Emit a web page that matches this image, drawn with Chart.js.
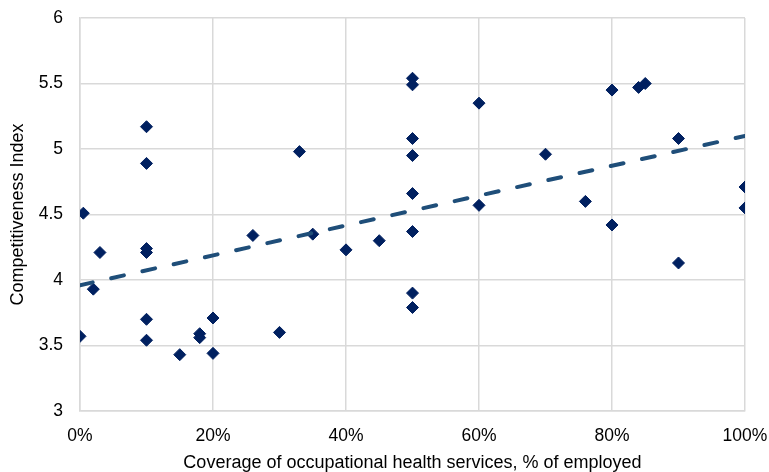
<!DOCTYPE html>
<html>
<head>
<meta charset="utf-8">
<script src="https://cdn.jsdelivr.net/npm/chart.js@4"></script>
<style>
  html, body { margin: 0; padding: 0; background: #ffffff; }
  #wrap { width: 769px; height: 472px; position: relative; }
</style>
</head>
<body>
<div id="wrap"><canvas id="c" width="769" height="472"></canvas></div>
<script>
// Coverage of occupational health services, % of employed
const coverage = [0, 0.5, 2, 3, 10, 10, 10, 10, 10, 10, 15, 18, 18, 20, 20, 26, 30, 33, 35, 40, 45,
  50, 50, 50, 50, 50, 50, 50, 50, 60, 60, 70, 76, 80, 80, 84, 85, 90, 90, 100, 100];
// Competitiveness Index
const competitiveness = [3.57, 4.51, 3.93, 4.21, 5.17, 4.89, 4.24, 4.21, 3.70, 3.54, 3.43, 3.59, 3.56, 3.71, 3.44, 4.34, 3.60, 4.98, 4.35, 4.23, 4.30,
  5.54, 5.49, 5.08, 4.95, 4.66, 4.37, 3.90, 3.79, 5.35, 4.57, 4.96, 4.60, 5.45, 4.42, 5.47, 5.50, 5.08, 4.13, 4.71, 4.55];
// Linear trend line endpoints
const trendX = [0, 100];
const trendY = [3.96, 5.10];
const xTicks = [0, 20, 40, 60, 80, 100];
const yTicks = [3, 3.5, 4, 4.5, 5, 5.5, 6];

const points = coverage.map((x, i) => ({ x: x, y: competitiveness[i] }));
const trend = trendX.map((x, i) => ({ x: x, y: trendY[i] }));

const FONT = "'Liberation Sans', Arial, sans-serif";
const GRID = '#d9d9d9';

new Chart(document.getElementById('c'), {
  type: 'scatter',
  data: {
    datasets: [
      {
        type: 'line',
        label: 'Trend',
        data: trend,
        borderColor: '#1f4e79',
        borderWidth: 4,
        borderDash: [13, 19],
        borderCapStyle: 'round',
        pointRadius: 0,
        fill: false,
        order: 0
      },
      {
        label: 'Countries',
        data: points,
        pointStyle: 'rectRot',
        pointRadius: 6,
        pointBackgroundColor: '#002060',
        pointBorderColor: '#002060',
        pointBorderWidth: 1,
        order: 1
      }
    ]
  },
  options: {
    responsive: false,
    animation: false,
    devicePixelRatio: 1,
    layout: { padding: { top: 18, right: 24, bottom: 0, left: 0 } },
    plugins: { legend: { display: false }, tooltip: { enabled: false } },
    scales: {
      x: {
        type: 'linear',
        min: 0, max: 100,
        afterBuildTicks: (s) => { s.ticks = xTicks.map(v => ({ value: v })); },
        afterFit: (s) => { s.height = 61; },
        ticks: {
          padding: 0,
          color: '#000',
          font: { family: FONT, size: 17.5 },
          maxRotation: 0,
          callback: (v) => v + '%'
        },
        grid: { color: GRID, lineWidth: 1.5, drawTicks: true, tickLength: 15, tickColor: 'rgba(0,0,0,0)' },
        border: { color: GRID, width: 1.5 },
        title: {
          display: true,
          text: 'Coverage of occupational health services, % of employed',
          color: '#000',
          font: { family: FONT, size: 18 },
          padding: { top: 0, bottom: -2 }
        }
      },
      y: {
        type: 'linear',
        min: 3, max: 6,
        afterBuildTicks: (s) => { s.ticks = yTicks.map(v => ({ value: v })); },
        afterFit: (s) => { s.width = 80; },
        ticks: {
          padding: 0,
          color: '#000',
          font: { family: FONT, size: 17.5 },
          callback: (v) => String(v)
        },
        grid: { color: GRID, lineWidth: 1.5, drawTicks: true, tickLength: 17, tickColor: 'rgba(0,0,0,0)' },
        border: { color: GRID, width: 1.5 },
        title: {
          display: true,
          text: 'Competitiveness Index',
          color: '#000',
          font: { family: FONT, size: 18 },
          padding: { top: 7, bottom: 0 }
        }
      }
    }
  }
});
</script>
</body>
</html>
